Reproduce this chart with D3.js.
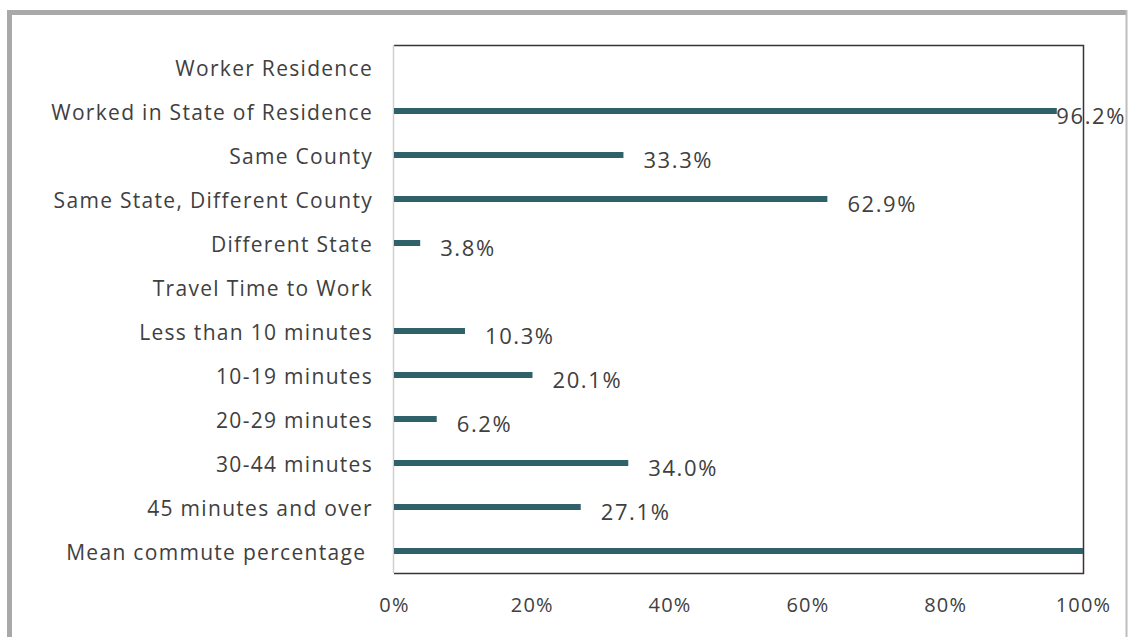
<!DOCTYPE html>
<html><head><meta charset="utf-8">
<script src="https://cdn.jsdelivr.net/npm/d3@7"></script>
<style>
html,body{margin:0;padding:0;background:#fff;}
svg{display:block;}
text{font-family:"Open Sans","Noto Sans",sans-serif;fill:#404040;}
</style></head>
<body>
<svg id="c" width="1130" height="637"></svg>
<script>
const categories = [
  "Worker Residence",
  "Worked in State of Residence",
  "Same County",
  "Same State, Different County",
  "Different State",
  "Travel Time to Work",
  "Less than 10 minutes",
  "10-19 minutes",
  "20-29 minutes",
  "30-44 minutes",
  "45 minutes and over",
  "Mean commute percentage "
];
const values = [null, 96.2, 33.3, 62.9, 3.8, null, 10.3, 20.1, 6.2, 34.0, 27.1, 100];
const valueLabels = ["", "96.2%", "33.3%", "62.9%", "3.8%", "", "10.3%", "20.1%", "6.2%", "34.0%", "27.1%", ""];
const tickValues = [0, 20, 40, 60, 80, 100];
const tickLabels = ["0%", "20%", "40%", "60%", "80%", "100%"];

const svg = d3.select("#c");
const W = 1130, H = 637;
const m = {left: 394, right: 1083, top: 45, bottom: 573};

// outer frame
svg.append("path")
  .attr("d", `M9.5,${H+10} L9.5,12.5 L1126,12.5`)
  .attr("fill", "none").attr("stroke", "#a9a9a9").attr("stroke-width", 5);
svg.append("line").attr("x1", 1126.5).attr("x2", 1126.5).attr("y1", 10).attr("y2", H)
  .attr("stroke", "#bdbdbd").attr("stroke-width", 2);

const x = d3.scaleLinear().domain([0, 100]).range([m.left, m.right]);
const y = d3.scaleBand().domain(d3.range(categories.length)).range([m.top, m.bottom]);

// plot frame
svg.append("path")
  .attr("d", `M${m.left},${m.top+0.5} L${m.right+0.5},${m.top+0.5} L${m.right+0.5},${m.bottom+0.5} L${m.left},${m.bottom+0.5}`)
  .attr("fill", "none").attr("stroke", "#3b3236").attr("stroke-width", 1.5);
svg.append("line").attr("x1", m.left - 0.5).attr("x2", m.left - 0.5).attr("y1", m.top).attr("y2", m.bottom)
  .attr("stroke", "#d0d0d0").attr("stroke-width", 1.5);

// x axis
const xAxis = d3.axisBottom(x).tickValues(tickValues).tickFormat((d, i) => tickLabels[i]).tickSize(0).tickPadding(0);
const gx = svg.append("g").attr("transform", `translate(0,${m.bottom})`).call(xAxis);
gx.select(".domain").remove();
gx.selectAll("text").attr("dy", null).attr("y", 39)
  .style("font-size", "20px").style("letter-spacing", "1.2px").style("fill", "#404040");

// y axis labels
const yAxis = d3.axisLeft(y).tickFormat(i => categories[i]).tickSize(0).tickPadding(0);
const gy = svg.append("g").attr("transform", `translate(${m.left - 21},0)`).call(yAxis);
gy.select(".domain").remove();
gy.selectAll("text").attr("dy", "0.42em")
  .style("font-size", "21px").style("letter-spacing", "1.3px")
  .style("white-space", "pre").style("fill", "#404040");

const idx = d3.range(categories.length).filter(i => values[i] != null);
const bh = 6;
svg.append("g").selectAll("rect").data(idx).join("rect")
  .attr("x", m.left)
  .attr("y", i => y(i) + y.bandwidth() / 2 - bh / 2)
  .attr("width", i => x(values[i]) - x(0))
  .attr("height", bh)
  .attr("fill", "#2f6169");

// value labels
const fits = i => x(values[i]) + 20 + 72 <= 1126;
svg.append("g").selectAll("text").data(idx.filter(i => valueLabels[i])).join("text")
  .attr("x", i => fits(i) ? x(values[i]) + 20 : 1126)
  .attr("text-anchor", i => fits(i) ? "start" : "end")
  .attr("y", i => y(i) + y.bandwidth() / 2 + 5)
  .attr("dy", "0.35em")
  .style("font-size", "22px").style("letter-spacing", "1.6px")
  .text(i => valueLabels[i]);
</script>
</body></html>
